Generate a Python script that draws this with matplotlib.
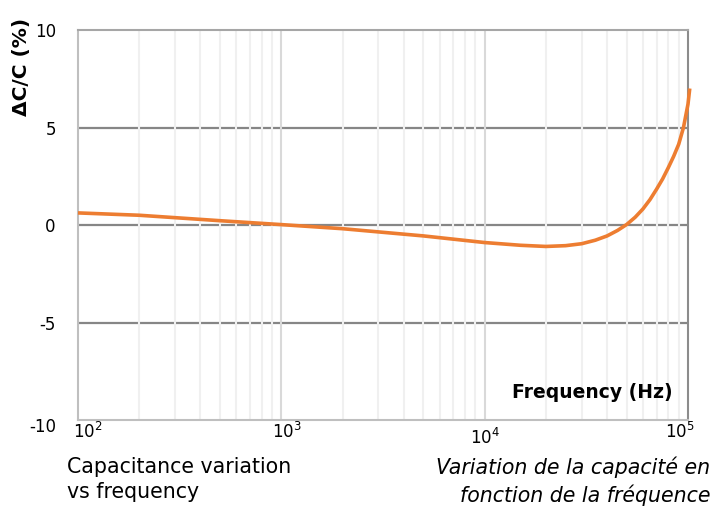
import matplotlib
matplotlib.use('Agg')
import matplotlib.pyplot as plt
import matplotlib.transforms as mtransforms
import numpy as np

plt.rcParams['font.family'] = ['DejaVu Sans']

# values
freq = [100, 200, 500, 1000, 2000, 5000, 10000, 15000, 20000, 25000, 30000,
        35000, 40000, 45000, 50000, 55000, 60000, 65000, 70000, 75000, 80000,
        85000, 90000, 95000, 100000, 102000]
dc = [0.62, 0.5, 0.22, 0.02, -0.19, -0.56, -0.9, -1.04, -1.1, -1.06, -0.96,
      -0.78, -0.56, -0.28, 0.03, 0.4, 0.82, 1.3, 1.83, 2.36, 2.94,
      3.52, 4.14, 5.0, 6.2, 7.0]

y_ticks = [-10, -5, 0, 5, 10]
x_ticks = [1e2, 1e3, 1e4, 1e5]
x_labels = ['$10^2$', '$10^3$', '$10^4$', '$10^5$']

fig = plt.figure(figsize=(7.13, 5.09), dpi=100)
ax = fig.add_axes([78/713, 1-420/509, 610/713, 390/509])

ax.set_xscale('log')
ax.set_xlim(1e2, 1e5)
ax.set_ylim(-10, 10)

# grid: horizontal dark, vertical minor light drawn over it
for v in [-5, 0, 5]:
    ax.axhline(v, color='#868686', lw=1.6, zorder=1)
minor = [m * 10**d for d in range(2, 5) for m in range(2, 10)]
for v in minor:
    ax.axvline(v, color='#f0f0f0', lw=1.5, zorder=2)
for v in [1e3, 1e4]:
    ax.axvline(v, color='#d9d9d9', lw=1.5, zorder=2)

ax.plot(freq, dc, color='#ed7d31', lw=2.6, zorder=5, clip_on=False,
        solid_capstyle='butt')

for s in ['left', 'bottom']:
    ax.spines[s].set_color('#bfbfbf')
    ax.spines[s].set_linewidth(1.5)
for s in ['top', 'right']:
    ax.spines[s].set_color('#8c8c8c')
    ax.spines[s].set_linewidth(1.5)
ax.spines['top'].set_color('#a6a6a6')

ax.set_yticks(y_ticks)
ax.set_yticklabels([str(v) for v in y_ticks])
ax.tick_params(axis='y', length=0, pad=16, labelsize=12)
ax.set_xticks(x_ticks)
ax.set_xticklabels([])
ax.xaxis.set_minor_locator(matplotlib.ticker.NullLocator())
ax.tick_params(axis='x', length=0)
for lab in ax.get_yticklabels():
    if lab.get_text() == '-10':
        lab.set_transform(lab.get_transform() + mtransforms.ScaledTranslation(0, -5/100, fig.dpi_scale_trans))

# x tick labels, staggered like the reference
offs = [(10, -12), (6, -12), (0, -18), (-8, -12)]
trans = ax.get_xaxis_transform()
for t, lab, (dx, dy) in zip(x_ticks, x_labels, offs):
    ax.text(t, 0, lab, transform=trans + mtransforms.ScaledTranslation(dx/100, dy/100, fig.dpi_scale_trans),
            ha='center', va='center', fontsize=12)

ax.text(0.975, 0.07, 'Frequency (Hz)', transform=ax.transAxes, ha='right', va='center',
        fontsize=13.5, fontweight='bold')

fig.text(22/713, 1-67/509, 'ΔC/C (%)', rotation=90, ha='center', va='center',
         fontsize=14.5, fontweight='bold')

fig.text(67/713, 1-457/509, 'Capacitance variation\nvs frequency', ha='left', va='top',
         fontsize=14.8, linespacing=1.32)
fig.text(710/713, 1-457/509, 'Variation de la capacité en\nfonction de la fréquence',
         ha='right', va='top', fontsize=14.8, style='italic', linespacing=1.32, multialignment='right')

fig.savefig('out.png', dpi=100)
